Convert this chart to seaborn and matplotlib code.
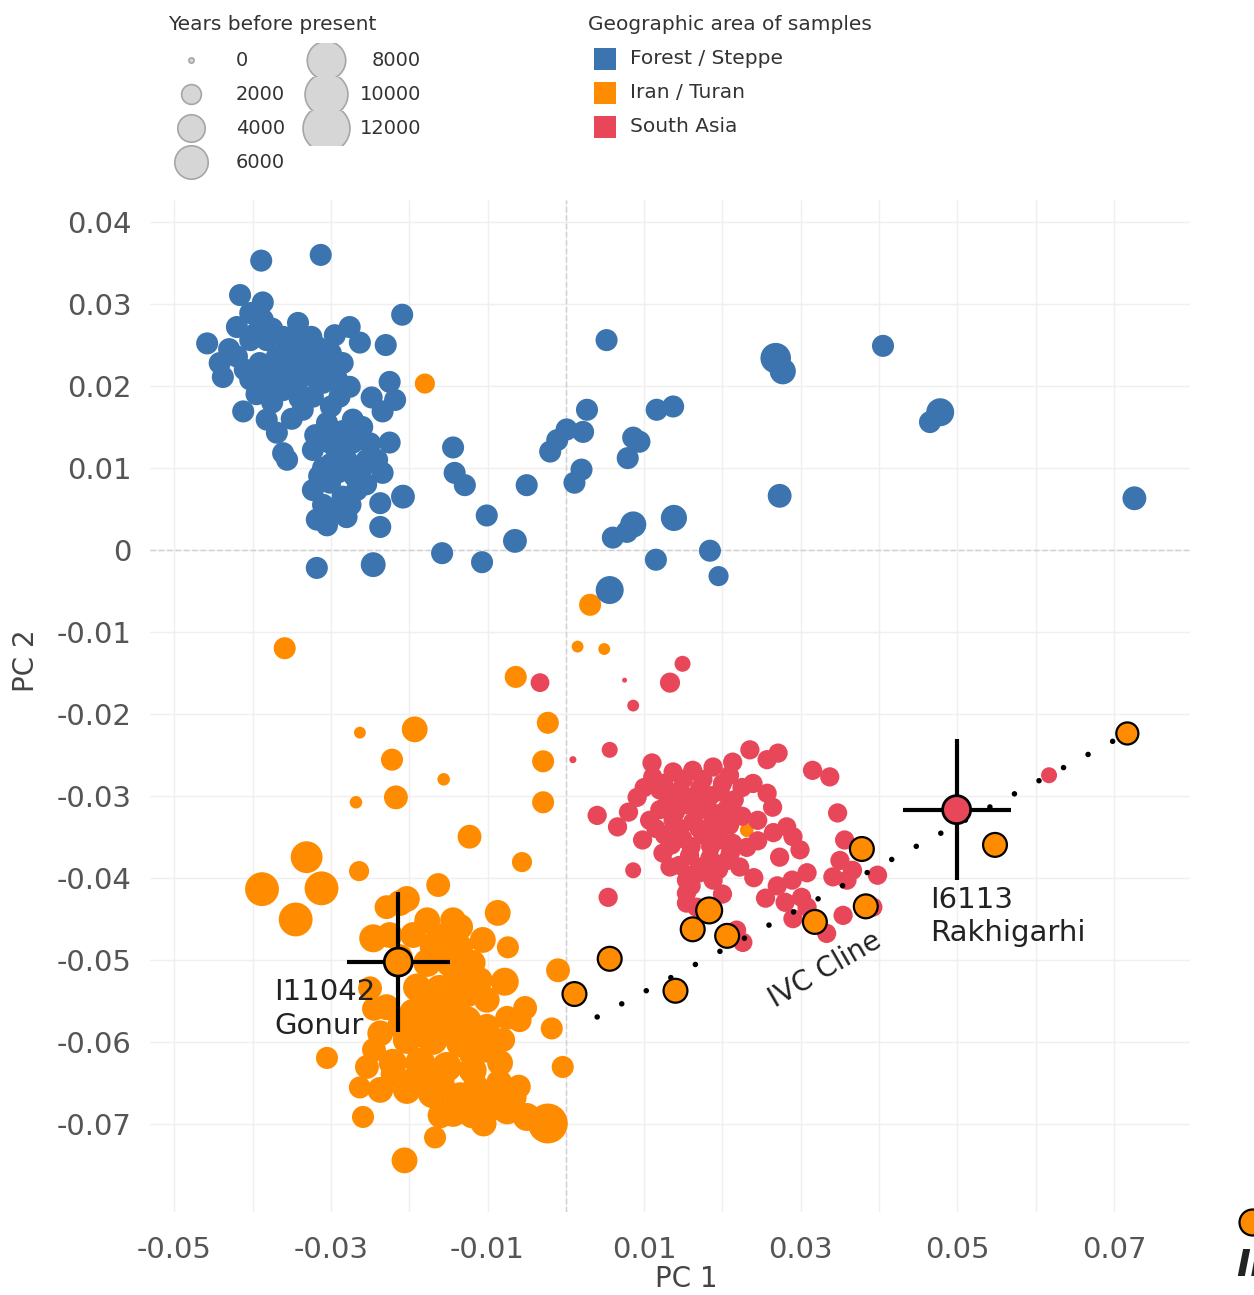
import matplotlib
matplotlib.use("Agg")
import matplotlib.pyplot as plt
from matplotlib.patches import Rectangle
from matplotlib.ticker import MultipleLocator
import seaborn as sns
import pandas as pd

# (PC1, PC2, years before present)
forest_steppe = [
    (-0.0389, 0.0353, 2800), (-0.0313, 0.0360, 2800), (-0.0416, 0.0311, 2800),
    (-0.0387, 0.0302, 2800), (-0.0458, 0.0252, 2800), (-0.0342, 0.0277, 2800),
    (-0.0276, 0.0272, 2800), (-0.0295, 0.0262, 2800), (-0.0263, 0.0253, 2800),
    (-0.0209, 0.0287, 2800), (-0.0230, 0.0250, 2800), (-0.0225, 0.0205, 2800),
    (-0.0218, 0.0183, 2800), (-0.0234, 0.0169, 2800), (-0.0248, 0.0186, 2800),
    (-0.0442, 0.0228, 2800), (-0.0438, 0.0211, 2800), (-0.0420, 0.0236, 2800),
    (-0.0403, 0.0256, 2800), (-0.0420, 0.0272, 2800), (-0.0403, 0.0289, 2800),
    (-0.0387, 0.0281, 2800), (-0.0382, 0.0256, 2800), (-0.0361, 0.0260, 2800),
    (-0.0369, 0.0236, 2800), (-0.0391, 0.0228, 2800), (-0.0403, 0.0208, 2800),
    (-0.0382, 0.0204, 2800), (-0.0352, 0.0223, 2800), (-0.0336, 0.0244, 2800),
    (-0.0318, 0.0248, 2800), (-0.0327, 0.0220, 2800), (-0.0310, 0.0228, 2800),
    (-0.0343, 0.0204, 2800), (-0.0361, 0.0195, 2800), (-0.0310, 0.0204, 2800),
    (-0.0292, 0.0208, 2800), (-0.0285, 0.0228, 2800), (-0.0276, 0.0199, 2800),
    (-0.0289, 0.0187, 2800), (-0.0323, 0.0187, 2800), (-0.0412, 0.0169, 2800),
    (-0.0382, 0.0159, 2800), (-0.0369, 0.0143, 2800), (-0.0361, 0.0118, 2800),
    (-0.0356, 0.0110, 2800), (-0.0336, 0.0171, 2800), (-0.0305, 0.0155, 2800),
    (-0.0272, 0.0159, 2800), (-0.0272, 0.0131, 2800), (-0.0225, 0.0131, 2800),
    (-0.0323, 0.0122, 2800), (-0.0292, 0.0118, 2800), (-0.0254, 0.0110, 2800),
    (-0.0234, 0.0094, 2800), (-0.0241, 0.0110, 2800), (-0.0323, 0.0073, 2800),
    (-0.0301, 0.0082, 2800), (-0.0285, 0.0065, 2800), (-0.0267, 0.0073, 2800),
    (-0.0237, 0.0057, 2800), (-0.0208, 0.0065, 3300), (-0.0318, 0.0037, 2800),
    (-0.0292, 0.0049, 2800), (-0.0237, 0.0028, 2800), (-0.0318, -0.0022, 2800),
    (-0.0246, -0.0018, 3600), (-0.0350, 0.0240, 2800), (-0.0330, 0.0235, 2800),
    (-0.0300, 0.0240, 2800), (-0.0340, 0.0185, 2800), (-0.0300, 0.0175, 2800),
    (-0.0310, 0.0100, 2800), (-0.0290, 0.0095, 2800), (-0.0270, 0.0090, 2800),
    (-0.0430, 0.0245, 2800), (-0.0410, 0.0220, 2800), (-0.0395, 0.0265, 2800),
    (-0.0375, 0.0270, 2800), (-0.0370, 0.0215, 2800), (-0.0355, 0.0205, 2800),
    (-0.0345, 0.0260, 2800), (-0.0325, 0.0260, 2800), (-0.0320, 0.0210, 2800),
    (-0.0300, 0.0220, 2800), (-0.0395, 0.0190, 2800), (-0.0375, 0.0180, 2800),
    (-0.0350, 0.0160, 2800), (-0.0320, 0.0140, 2800), (-0.0300, 0.0130, 2800),
    (-0.0285, 0.0145, 2800), (-0.0250, 0.0130, 2800), (-0.0260, 0.0150, 2800),
    (-0.0315, 0.0090, 2800), (-0.0300, 0.0105, 2800), (-0.0280, 0.0110, 2800),
    (-0.0260, 0.0100, 2800), (-0.0310, 0.0055, 2800), (-0.0275, 0.0055, 2800),
    (-0.0255, 0.0080, 2800), (-0.0305, 0.0030, 2800), (-0.0280, 0.0040, 2800),
    (-0.0158, -0.0004, 2800), (-0.0144, 0.0125, 2800), (-0.0142, 0.0094, 2800),
    (-0.0129, 0.0079, 2800), (-0.0101, 0.0042, 2800), (-0.0107, -0.0015, 2800),
    (-0.0065, 0.0011, 3300), (-0.0050, 0.0079, 2800), (-0.0020, 0.0120, 2800),
    (-0.0011, 0.0134, 2800), (0.0001, 0.0147, 2800), (0.0022, 0.0144, 2800),
    (0.0027, 0.0171, 2800), (0.0011, 0.0082, 2800), (0.0020, 0.0098, 2800),
    (0.0116, 0.0171, 2800), (0.0137, 0.0175, 2800), (0.0086, 0.0137, 2800),
    (0.0094, 0.0132, 2800), (0.0079, 0.0112, 2800), (0.0060, 0.0015, 2800),
    (0.0086, 0.0031, 4000), (0.0078, 0.0022, 2800), (0.0138, 0.0039, 4000),
    (0.0115, -0.0012, 2800), (0.0184, -0.0001, 2800), (0.0195, -0.0032, 2300),
    (0.0056, -0.0049, 4600), (0.0052, 0.0256, 2800), (0.0268, 0.0234, 5500),
    (0.0277, 0.0218, 4000), (0.0405, 0.0249, 2800), (0.0478, 0.0168, 4600),
    (0.0465, 0.0156, 2800), (0.0273, 0.0066, 3300), (0.0726, 0.0063, 3300),
]

iran_turan = [
    (-0.0180, 0.0203, 2300), (0.0031, -0.0067, 2800), (-0.0359, -0.0120, 2800),
    (0.0015, -0.0118, 700), (0.0049, -0.0121, 700), (-0.0064, -0.0155, 2800),
    (-0.0023, -0.0211, 2800), (-0.0029, -0.0258, 2800), (-0.0029, -0.0308, 2800),
    (-0.0056, -0.0381, 2300), (-0.0263, -0.0223, 700), (-0.0193, -0.0219, 3900),
    (-0.0222, -0.0256, 2800), (-0.0156, -0.0280, 800), (-0.0268, -0.0308, 800),
    (-0.0217, -0.0302, 3300), (-0.0123, -0.0350, 3300), (-0.0331, -0.0375, 6000),
    (-0.0388, -0.0414, 6800), (-0.0312, -0.0413, 6800), (-0.0345, -0.0451, 6800),
    (-0.0264, -0.0392, 2300), (-0.0163, -0.0409, 3300), (-0.0212, -0.0431, 3900),
    (-0.0246, -0.0474, 4600), (-0.0087, -0.0443, 3900), (-0.0074, -0.0485, 2800),
    (-0.0010, -0.0513, 3300), (-0.0078, -0.0527, 4600), (-0.0052, -0.0559, 3300),
    (-0.0075, -0.0571, 3300), (-0.0018, -0.0584, 2800), (-0.0004, -0.0631, 2800),
    (-0.0305, -0.0620, 2800), (-0.0259, -0.0692, 2800), (-0.0167, -0.0717, 2800),
    (-0.0206, -0.0745, 3900), (-0.0023, -0.0700, 9500),
    (-0.0203, -0.0426, 3900), (-0.0229, -0.0436, 3300), (-0.0161, -0.0473, 4600),
    (-0.0135, -0.0460, 3900), (-0.0106, -0.0476, 3900), (-0.0177, -0.0504, 4600),
    (-0.0148, -0.0504, 4600), (-0.0119, -0.0504, 3900), (-0.0190, -0.0534, 4600),
    (-0.0161, -0.0537, 5300), (-0.0126, -0.0541, 4600), (-0.0101, -0.0549, 3900),
    (-0.0229, -0.0558, 3900), (-0.0195, -0.0565, 4600), (-0.0161, -0.0570, 5300),
    (-0.0126, -0.0574, 4600), (-0.0101, -0.0582, 3900), (-0.0237, -0.0590, 3900),
    (-0.0203, -0.0598, 4600), (-0.0170, -0.0598, 5300), (-0.0135, -0.0602, 4600),
    (-0.0101, -0.0610, 3900), (-0.0254, -0.0631, 3300), (-0.0221, -0.0626, 4600),
    (-0.0186, -0.0626, 5300), (-0.0152, -0.0631, 5300), (-0.0119, -0.0635, 4600),
    (-0.0084, -0.0626, 3900), (-0.0237, -0.0659, 3900), (-0.0203, -0.0659, 4600),
    (-0.0170, -0.0663, 5300), (-0.0135, -0.0668, 5300), (-0.0101, -0.0668, 4600),
    (-0.0068, -0.0668, 4600), (-0.0144, -0.0687, 4600), (-0.0075, -0.0684, 4600),
    (-0.0050, -0.0692, 4600), (-0.0263, -0.0656, 2800), (-0.0080, -0.0598, 3300),
    (-0.0059, -0.0574, 3300), (-0.0170, -0.0485, 3900), (-0.0177, -0.0452, 3900),
    (-0.0144, -0.0452, 3900), (-0.0212, -0.0497, 3900), (0.0231, -0.0342, 1000),
    (-0.0225, -0.0470, 3900), (-0.0195, -0.0470, 3900), (-0.0135, -0.0485, 3900),
    (-0.0110, -0.0525, 3900), (-0.0140, -0.0520, 3900), (-0.0175, -0.0550, 4600),
    (-0.0145, -0.0555, 4600), (-0.0210, -0.0580, 4600), (-0.0185, -0.0590, 4600),
    (-0.0150, -0.0585, 4600), (-0.0115, -0.0590, 3900), (-0.0120, -0.0615, 3900),
    (-0.0160, -0.0650, 4600), (-0.0190, -0.0645, 4600), (-0.0220, -0.0640, 3900),
    (-0.0115, -0.0655, 3900), (-0.0085, -0.0650, 3900), (-0.0090, -0.0680, 3900),
    (-0.0120, -0.0690, 3900), (-0.0060, -0.0655, 3300), (-0.0160, -0.0690, 3900),
    (-0.0105, -0.0700, 3900), (-0.0245, -0.0610, 3300), (-0.0250, -0.0535, 3300),
    (-0.0245, -0.0560, 3300),
]

south_asia = [
    (0.0149, -0.0139, 1400), (0.0133, -0.0162, 2300), (0.0086, -0.0190, 700),
    (-0.0033, -0.0162, 2000), (0.0009, -0.0256, 150), (0.0075, -0.0159, 0),
    (0.0056, -0.0244, 1400), (0.0040, -0.0324, 2100), (0.0066, -0.0338, 2100),
    (0.0054, -0.0424, 2100), (0.0086, -0.0391, 1400), (0.0110, -0.0260, 2100),
    (0.0235, -0.0244, 2100), (0.0213, -0.0259, 2100), (0.0257, -0.0256, 2100),
    (0.0271, -0.0248, 2100), (0.0315, -0.0269, 2100), (0.0337, -0.0277, 2100),
    (0.0347, -0.0321, 2100), (0.0356, -0.0354, 2100), (0.0350, -0.0379, 2100),
    (0.0366, -0.0391, 2100), (0.0398, -0.0397, 2100), (0.0341, -0.0399, 2100),
    (0.0359, -0.0403, 2100), (0.0392, -0.0436, 2100), (0.0354, -0.0446, 2100),
    (0.0333, -0.0468, 2100), (0.0289, -0.0403, 2100), (0.0308, -0.0394, 2100),
    (0.0301, -0.0424, 2100), (0.0308, -0.0436, 2100), (0.0226, -0.0479, 2100),
    (0.0154, -0.0431, 2100), (0.0290, -0.0350, 2100), (0.0282, -0.0338, 2100),
    (0.0299, -0.0366, 2100), (0.0273, -0.0375, 2100), (0.0264, -0.0314, 2100),
    (0.0257, -0.0297, 2100), (0.0239, -0.0285, 2100), (0.0091, -0.0302, 2100),
    (0.0120, -0.0317, 2100), (0.0098, -0.0354, 2100), (0.0124, -0.0370, 2100),
    (0.0133, -0.0387, 2100), (0.0154, -0.0403, 2100), (0.0171, -0.0394, 2100),
    (0.0188, -0.0403, 2100), (0.0206, -0.0379, 2100), (0.0222, -0.0387, 2100),
    (0.0231, -0.0363, 2100), (0.0213, -0.0358, 2100), (0.0111, -0.0277, 2100),
    (0.0137, -0.0271, 2100), (0.0162, -0.0269, 2100), (0.0188, -0.0265, 2100),
    (0.0209, -0.0275, 2100), (0.0120, -0.0293, 2100), (0.0146, -0.0293, 2100),
    (0.0171, -0.0291, 2100), (0.0197, -0.0295, 2100), (0.0129, -0.0311, 2100),
    (0.0154, -0.0311, 2100), (0.0180, -0.0311, 2100), (0.0206, -0.0315, 2100),
    (0.0137, -0.0330, 2100), (0.0162, -0.0332, 2100), (0.0188, -0.0330, 2100),
    (0.0209, -0.0336, 2100), (0.0126, -0.0348, 2100), (0.0149, -0.0352, 2100),
    (0.0175, -0.0348, 2100), (0.0197, -0.0354, 2100), (0.0158, -0.0373, 2100),
    (0.0184, -0.0376, 2100), (0.0171, -0.0387, 2100), (0.0107, -0.0330, 2100),
    (0.0154, -0.0419, 2100), (0.0167, -0.0436, 2100), (0.0218, -0.0464, 2100),
    (0.0617, -0.0275, 1400),
    (0.0125, -0.0285, 2100), (0.0150, -0.0280, 2100), (0.0175, -0.0280, 2100),
    (0.0200, -0.0285, 2100), (0.0225, -0.0290, 2100), (0.0135, -0.0300, 2100),
    (0.0160, -0.0302, 2100), (0.0185, -0.0300, 2100), (0.0215, -0.0305, 2100),
    (0.0140, -0.0320, 2100), (0.0167, -0.0320, 2100), (0.0195, -0.0322, 2100),
    (0.0225, -0.0325, 2100), (0.0115, -0.0340, 2100), (0.0145, -0.0340, 2100),
    (0.0170, -0.0340, 2100), (0.0190, -0.0342, 2100), (0.0135, -0.0360, 2100),
    (0.0160, -0.0362, 2100), (0.0185, -0.0362, 2100), (0.0210, -0.0370, 2100),
    (0.0145, -0.0385, 2100), (0.0165, -0.0395, 2100), (0.0195, -0.0390, 2100),
    (0.0160, -0.0410, 2100), (0.0245, -0.0330, 2100), (0.0245, -0.0355, 2100),
    (0.0265, -0.0345, 2100), (0.0240, -0.0400, 2100), (0.0270, -0.0410, 2100),
    (0.0255, -0.0425, 2100), (0.0280, -0.0430, 2100), (0.0290, -0.0450, 2100),
    (0.0200, -0.0420, 2100), (0.0100, -0.0290, 2100), (0.0080, -0.0320, 2100),
]

# Iran/Turan samples on the IVC cline (black outline)
ivc_cline = [
    (0.0011, -0.0542, 3300), (0.0056, -0.0499, 3300), (0.0140, -0.0538, 3300),
    (0.0162, -0.0463, 3300), (0.0183, -0.0440, 3900), (0.0206, -0.0471, 3300),
    (0.0318, -0.0454, 3300), (0.0378, -0.0365, 3300), (0.0383, -0.0435, 3300),
    (0.0548, -0.0360, 3300), (0.0717, -0.0224, 2800),
]
cline_ends_x = [0.0040, 0.0717]
cline_ends_y = [-0.0570, -0.0224]

gonur = (-0.0214, -0.0503, 4600)
gonur_err = (0.0066, 0.0085)
rakhigarhi = (0.0499, -0.0317, 4600)
rakhigarhi_err = (0.0069, 0.0086)

area_names = ["Forest / Steppe", "Iran / Turan", "South Asia"]
area_colors = ["#3B74AE", "#FF8C00", "#E8475A"]
age_breaks = [0, 2000, 4000, 6000, 8000, 10000, 12000]

x_ticks = [-0.05, -0.03, -0.01, 0.01, 0.03, 0.05, 0.07]
x_labels = ["-0.05", "-0.03", "-0.01", "0.01", "0.03", "0.05", "0.07"]
y_ticks = [0.04, 0.03, 0.02, 0.01, 0, -0.01, -0.02, -0.03, -0.04, -0.05, -0.06, -0.07]
y_labels = ["0.04", "0.03", "0.02", "0.01", "0", "-0.01", "-0.02", "-0.03",
            "-0.04", "-0.05", "-0.06", "-0.07"]

size_range = (13, 1039)
age_norm = (0, 12000)
palette = dict(zip(area_names, area_colors))


def frame(rows, area):
    d = pd.DataFrame(rows, columns=["PC1", "PC2", "age"])
    d["area"] = area
    return d


def marker_area(age):
    return size_range[0] + (size_range[1] - size_range[0]) * age / age_norm[1]


df = pd.concat([frame(iran_turan, "Iran / Turan"),
                frame(forest_steppe, "Forest / Steppe"),
                frame(south_asia, "South Asia")], ignore_index=True)
cline = frame(ivc_cline, "Iran / Turan")
marked = pd.concat([frame([gonur], "Iran / Turan"),
                    frame([rakhigarhi], "South Asia")], ignore_index=True)

sns.set_theme(style="white")
plt.rcParams["font.family"] = ["DejaVu Sans"]

W, H = 1254, 1295
fig = plt.figure(figsize=(W / 100, H / 100), dpi=100)
ax = fig.add_axes([150 / W, 1 - 1212 / H, 1040 / W, 1012 / H])

sns.scatterplot(data=df, x="PC1", y="PC2", hue="area", size="age",
                palette=palette, sizes=size_range, size_norm=age_norm,
                linewidth=0, legend=False, ax=ax, zorder=3)

ax.plot(cline_ends_x, cline_ends_y, color="black", lw=4,
        linestyle=(0, (0.01, 5)), dash_capstyle="round", zorder=4)

sns.scatterplot(data=cline, x="PC1", y="PC2", hue="area", size="age",
                palette=palette, sizes=size_range, size_norm=age_norm,
                edgecolor="black", linewidth=1.6, legend=False, ax=ax, zorder=5)

for pt, err in [(gonur, gonur_err), (rakhigarhi, rakhigarhi_err)]:
    ax.errorbar(pt[0], pt[1], xerr=err[0], yerr=err[1], fmt="none",
                ecolor="black", elinewidth=3, capsize=0, zorder=6)

sns.scatterplot(data=marked, x="PC1", y="PC2", hue="area", size="age",
                palette=palette, sizes=size_range, size_norm=age_norm,
                edgecolor="black", linewidth=2, legend=False, ax=ax, zorder=7)

ax.text(gonur[0] - 0.0158, gonur[1] - 0.0020, "I11042\nGonur", fontsize=21,
        color="#222222", ha="left", va="top", linespacing=1.25, zorder=8)
ax.text(rakhigarhi[0] - 0.0034, rakhigarhi[1] - 0.0093, "I6113\nRakhigarhi",
        fontsize=21, color="#222222", ha="left", va="top", linespacing=1.25, zorder=8)
ax.text(0.0331, -0.0513, "IVC Cline", fontsize=20, color="#222222",
        rotation=30, ha="center", va="center", zorder=8)

ax.set_xlim(-0.0531, 0.0797)
ax.set_ylim(-0.0808, 0.0427)
ax.set_xticks(x_ticks)
ax.set_xticklabels(x_labels)
ax.set_yticks(y_ticks)
ax.set_yticklabels(y_labels)
ax.xaxis.set_minor_locator(MultipleLocator(0.01))
ax.grid(True, which="both", color="#EFEFEF", lw=1, zorder=0)
ax.axhline(0, color="#CFCFCF", lw=1, ls=(0, (4, 2)), zorder=1)
ax.axvline(0, color="#CFCFCF", lw=1, ls=(0, (4, 2)), zorder=1)
for s in ax.spines.values():
    s.set_visible(False)
ax.tick_params(axis="both", which="both", length=0, labelsize=21,
               labelcolor="#555555")
ax.tick_params(axis="x", pad=17)
ax.tick_params(axis="y", pad=13)
ax.set_xlabel("PC 1", fontsize=20, color="#444444")
ax.set_ylabel("PC 2", fontsize=20, color="#444444")
ax.xaxis.set_label_coords(0.516, -0.052)
ax.yaxis.set_label_coords(-0.106, 0.545)

# legends drawn in a pixel-space overlay
lax = fig.add_axes([0, 0, 1, 1])
lax.set_xlim(0, W)
lax.set_ylim(H, 0)
lax.axis("off")

lax.text(168, 24, "Years before present", fontsize=14.5, color="#333333",
         ha="left", va="center")
key_pos = [(191, 60), (191, 94), (191, 128), (191, 162),
           (326, 60), (326, 94), (326, 128)]
for age, (kx, ky) in zip(age_breaks, key_pos):
    sc = lax.scatter([kx], [ky], s=marker_area(age) * 1.1, color="#D6D6D6",
                     edgecolor="#A6A6A6", linewidth=1.2)
    clip = Rectangle((kx - 40, ky - 17), 80, 34, transform=lax.transData)
    sc.set_clip_path(clip)
    if kx < 300:
        lax.text(236, ky, f"{age}", fontsize=14, color="#333333",
                 ha="left", va="center")
    else:
        lax.text(421, ky, f"{age}", fontsize=14, color="#333333",
                 ha="right", va="center")

lax.text(588, 24, "Geographic area of samples", fontsize=14.5,
         color="#333333", ha="left", va="center")
for i, (name, col) in enumerate(zip(area_names, area_colors)):
    ky = 59 + 34 * i
    lax.scatter([605], [ky], s=251, marker="s", color=col, linewidth=0)
    lax.text(630, ky, name, fontsize=14.5, color="#333333",
             ha="left", va="center")

# cropped remnant of a neighbouring legend at the lower right edge
lax.scatter([1252], [1222], s=350, color=area_colors[1], edgecolor="black",
            linewidth=1.6)
lax.text(1236, 1266, "Ir", fontsize=27, style="italic", fontweight="bold",
         color="#222222", ha="left", va="center")

fig.savefig("out.png", dpi=100)
